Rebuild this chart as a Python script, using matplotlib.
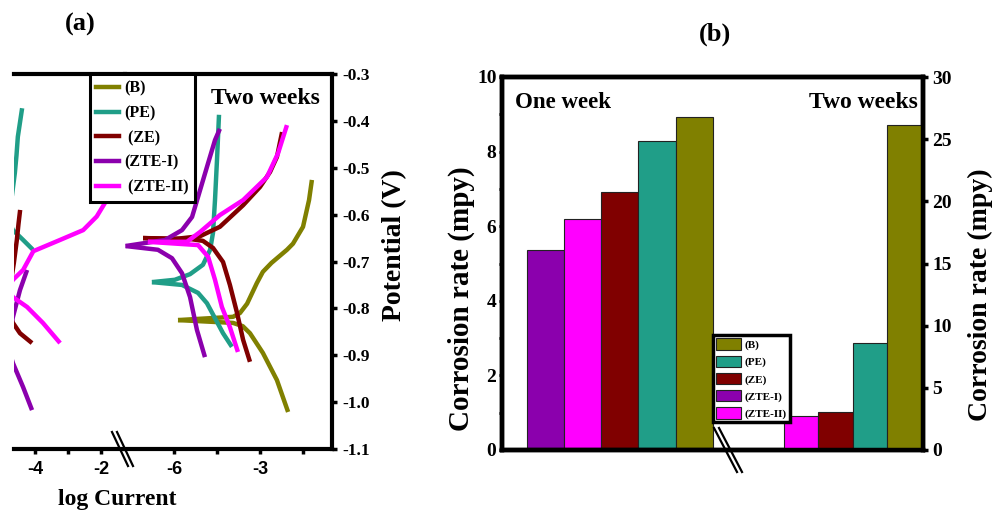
import numpy as np
import matplotlib
matplotlib.use('Agg')
import matplotlib.pyplot as plt
from matplotlib.lines import Line2D
from matplotlib.patches import Patch

plt.rcParams['font.family'] = ['Liberation Serif', 'DejaVu Serif']
plt.rcParams['font.weight'] = 'bold'

# ---------------- data ----------------
samples = ['(B)', '(PE)', ' (ZE)', '(ZTE-I)', ' (ZTE-II)']
samples_b = ['(B)', '(PE)', '(ZE)', '(ZTE-I)', '(ZTE-II)']
colors = {'B': '#808000', 'PE': '#209E88', 'ZE': '#800000',
          'ZTE-I': '#8B00AD', 'ZTE-II': '#FF00FF'}

# Panel (a): Tafel curves, left part of the broken log-current axis
pe_l1_x = [-4.70, -4.61, -4.56, -4.52, -4.39]
pe_l1_y = [-0.560, -0.511, -0.473, -0.434, -0.373]
pe_l2_x = [-4.72, -4.667, -4.36, -4.06]
pe_l2_y = [-0.625, -0.633, -0.654, -0.675]
ze_l1_x = [-4.45, -4.50, -4.55, -4.64, -4.70]
ze_l1_y = [-0.590, -0.620, -0.654, -0.703, -0.730]
ze_l2_x = [-4.72, -4.667, -4.455, -4.09]
ze_l2_y = [-0.820, -0.831, -0.853, -0.874]
ztei_l1_x = [-4.24, -4.455, -4.667, -4.72]
ztei_l1_y = [-0.718, -0.761, -0.818, -0.835]
ztei_l2_x = [-4.72, -4.667, -4.36, -4.09]
ztei_l2_y = [-0.905, -0.917, -0.968, -1.017]
zteii_l1_x = [-4.72, -4.667, -4.36, -4.05, -3.24, -2.54, -2.13, -1.88]
zteii_l1_y = [-0.745, -0.739, -0.718, -0.678, -0.654, -0.633, -0.604, -0.575]
zteii_l2_x = [-4.72, -4.667, -4.24, -3.76, -3.24]
zteii_l2_y = [-0.770, -0.776, -0.797, -0.831, -0.874]

# Panel (a): right part of the broken axis (anodic / cathodic branches)
b_an_x = [-5.86, -3.94, -3.70, -3.45, -3.11, -2.90, -2.60, -2.06, -1.85, -1.50, -1.29, -1.19]
b_an_y = [-0.825, -0.818, -0.810, -0.790, -0.746, -0.722, -0.703, -0.675, -0.662, -0.626, -0.569, -0.526]
b_ca_x = [-5.86, -3.94, -3.60, -3.35, -2.90, -2.41, -2.02]
b_ca_y = [-0.825, -0.831, -0.838, -0.853, -0.895, -0.953, -1.021]

pe_an_x = [-6.77, -5.97, -5.44, -4.99, -4.74, -4.64, -4.57, -4.50, -4.43]
pe_an_y = [-0.744, -0.739, -0.727, -0.707, -0.675, -0.639, -0.569, -0.483, -0.387]
pe_ca_x = [-6.77, -5.72, -5.16, -4.85, -4.57, -4.29, -3.98]
pe_ca_y = [-0.744, -0.750, -0.767, -0.789, -0.821, -0.853, -0.882]

ze_an_x = [-7.08, -5.97, -5.09, -4.40, -3.59, -3.00, -2.65, -2.41, -2.23]
ze_an_y = [-0.650, -0.652, -0.646, -0.626, -0.580, -0.541, -0.509, -0.477, -0.424]
ze_ca_x = [-7.08, -5.44, -4.99, -4.64, -4.29, -4.05, -3.80, -3.59, -3.35]
ze_ca_y = [-0.650, -0.652, -0.656, -0.671, -0.701, -0.750, -0.810, -0.867, -0.914]

ztei_an_x = [-7.69, -6.31, -5.72, -5.37, -5.16, -4.81, -4.57, -4.40]
ztei_an_y = [-0.667, -0.654, -0.633, -0.605, -0.562, -0.490, -0.441, -0.417]
ztei_ca_x = [-7.69, -6.56, -6.07, -5.72, -5.44, -5.20, -4.92]
ztei_ca_y = [-0.667, -0.675, -0.693, -0.725, -0.776, -0.846, -0.904]

zteii_an_x = [-6.91, -5.55, -5.09, -4.40, -3.59, -2.76, -2.37, -2.06]
zteii_an_y = [-0.658, -0.658, -0.637, -0.601, -0.569, -0.520, -0.469, -0.409]
zteii_ca_x = [-6.91, -5.16, -4.81, -4.57, -4.33, -4.05, -3.77]
zteii_ca_y = [-0.658, -0.665, -0.690, -0.739, -0.797, -0.840, -0.893]

left_ticks = [-4, -2]
left_minor = [-3]
right_ticks = [-6, -3]
right_minor = [-4.5, -1.5]
pot_ticks = [-1.1, -1.0, -0.9, -0.8, -0.7, -0.6, -0.5, -0.4, -0.3]

# Panel (b): corrosion rate (mpy)
week1_names = ['ZTE-I', 'ZTE-II', 'ZE', 'PE', 'B']
week1_rate = [5.37, 6.18, 6.93, 8.28, 8.94]
week2_names = ['ZTE-II', 'ZE', 'PE', 'B']
week2_rate = [2.73, 3.03, 8.63, 26.1]

# ---------------- figure ----------------
W, H = 993, 516
fig = plt.figure(figsize=(W / 100, H / 100), dpi=100)

def fx(px):
    return px / W

def fy(py):
    return 1 - py / H

LW = 3.2
SP = 3.0
sans_tick = {'family': 'Liberation Sans', 'weight': 'bold', 'size': 13}

axL = fig.add_axes([fx(14), fy(449), fx(125) - fx(14), fy(74) - fy(449)])
axR = fig.add_axes([fx(125), fy(449), fx(332) - fx(125), fy(74) - fy(449)])

left_curves = [(pe_l1_x, pe_l1_y, 'PE'), (pe_l2_x, pe_l2_y, 'PE'),
               (ze_l1_x, ze_l1_y, 'ZE'), (ze_l2_x, ze_l2_y, 'ZE'),
               (ztei_l1_x, ztei_l1_y, 'ZTE-I'), (ztei_l2_x, ztei_l2_y, 'ZTE-I'),
               (zteii_l1_x, zteii_l1_y, 'ZTE-II'), (zteii_l2_x, zteii_l2_y, 'ZTE-II')]
for x, y, k in left_curves:
    axL.plot(x, y, color=colors[k], lw=LW, solid_joinstyle='round', solid_capstyle='butt')

right_curves = [(b_an_x, b_an_y, 'B'), (b_ca_x, b_ca_y, 'B'),
                (pe_an_x, pe_an_y, 'PE'), (pe_ca_x, pe_ca_y, 'PE'),
                (ze_an_x, ze_an_y, 'ZE'), (ze_ca_x, ze_ca_y, 'ZE'),
                (ztei_an_x, ztei_an_y, 'ZTE-I'), (ztei_ca_x, ztei_ca_y, 'ZTE-I'),
                (zteii_an_x, zteii_an_y, 'ZTE-II'), (zteii_ca_x, zteii_ca_y, 'ZTE-II')]
for x, y, k in right_curves:
    axR.plot(x, y, color=colors[k], lw=LW, solid_joinstyle='round', solid_capstyle='butt')

for ax in (axL, axR):
    ax.set_ylim(-1.1, -0.3)
    for s in ax.spines.values():
        s.set_linewidth(SP)
    ax.spines['left'].set_visible(False)
axL.spines['right'].set_visible(False)
axL.set_xlim(-4.636, -1.273)
axR.set_xlim(-7.709, -0.489)

axL.set_yticks([])
axL.set_xticks(left_ticks)
axL.set_xticks(left_minor, minor=True)
axL.set_xticklabels([str(t) for t in left_ticks], fontdict=sans_tick)
axR.set_xticks(right_ticks)
axR.set_xticks(right_minor, minor=True)
axR.set_xticklabels([str(t) for t in right_ticks], fontdict=sans_tick)
for ax in (axL, axR):
    ax.tick_params(axis='x', which='both', direction='out', length=3.5, width=2.5, pad=5)
axR.yaxis.tick_right()
axR.set_yticks(pot_ticks)
axR.set_yticklabels(['%.1f' % t for t in pot_ticks], fontsize=12.5, fontweight='bold')
axR.tick_params(axis='y', which='both', direction='out', length=3.5, width=2.5, pad=4)
axR.tick_params(axis='y', left=False)

fig.text(fx(395), fy(245), 'Potential (V)', rotation=90, ha='center', va='center',
         fontsize=20, fontweight='bold')
fig.text(fx(117), fy(500), 'log Current', ha='center', va='center',
         fontsize=17, fontweight='bold')
fig.text(fx(80), fy(24), '(a)', ha='center', va='center', fontsize=19, fontweight='bold')
fig.text(fx(265), fy(99), 'Two weeks', ha='center', va='center', fontsize=17, fontweight='bold')

order = ['B', 'PE', 'ZE', 'ZTE-I', 'ZTE-II']
line_handles = [Line2D([0], [0], color=colors[k], lw=LW) for k in order]
legA = fig.legend(line_handles, samples, loc='upper left',
                  bbox_to_anchor=(fx(90), fy(74)), frameon=True, fancybox=False,
                  edgecolor='black', framealpha=1, borderpad=0.4, labelspacing=0.55,
                  handlelength=1.4, handletextpad=0.35, borderaxespad=0,
                  prop={'size': 11.5, 'weight': 'bold'})
legA.get_frame().set_linewidth(2.2)

# break marks panel (a)
for dx in (0, 5):
    fig.add_artist(Line2D([fx(112 + dx), fx(128 + dx)], [fy(432), fy(466)],
                          transform=fig.transFigure, color='black', lw=1.6))

# ---------------- panel (b) ----------------
axB = fig.add_axes([fx(502), fy(450), fx(923) - fx(502), fy(77) - fy(450)])
axB2 = axB.twinx()

pos1 = np.arange(len(week1_rate))
axB.bar(pos1, week1_rate, width=1.0, color=[colors[k] for k in week1_names],
        edgecolor='#222222', linewidth=0.8)
pos2 = 6.405 + 0.926 * (np.arange(len(week2_rate)) + 0.5)
axB2.bar(pos2, week2_rate, width=0.926, color=[colors[k] for k in week2_names],
         edgecolor='#222222', linewidth=0.8)

axB.set_xlim(-1.163, 10.136)
axB.set_ylim(0, 10)
axB2.set_ylim(0, 30)
axB.set_xticks([])
axB.set_yticks(np.arange(0, 11, 2))
axB.set_yticks(np.arange(1, 10, 2), minor=True)
axB.set_yticklabels([str(v) for v in range(0, 11, 2)], fontsize=14, fontweight='bold')
axB.tick_params(axis='y', which='both', direction='out', length=2.5, width=2, pad=1.5)
axB2.set_yticks(np.arange(0, 31, 5))
axB2.set_yticklabels([str(v) for v in range(0, 31, 5)], fontsize=14, fontweight='bold')
axB2.tick_params(axis='y', direction='out', length=3.5, width=2.5, pad=3)
for ax in (axB, axB2):
    for s in ax.spines.values():
        s.set_linewidth(3.2)

fig.text(fx(461), fy(299), 'Corrosion rate (mpy)', rotation=90, ha='center', va='center',
         fontsize=21, fontweight='bold')
fig.text(fx(980), fy(295), 'Corrosion rate (mpy)', rotation=90, ha='center', va='center',
         fontsize=20, fontweight='bold')
fig.text(fx(715), fy(34), '(b)', ha='center', va='center', fontsize=19, fontweight='bold')
fig.text(fx(563), fy(103), 'One week', ha='center', va='center', fontsize=16.5, fontweight='bold')
fig.text(fx(863), fy(102), 'Two weeks', ha='center', va='center', fontsize=17, fontweight='bold')

patch_handles = [Patch(facecolor=colors[k], edgecolor='#222222', linewidth=0.8) for k in order]
legB = fig.legend(patch_handles, samples_b, loc='upper left',
                  bbox_to_anchor=(fx(713), fy(335)), frameon=True, fancybox=False,
                  edgecolor='black', framealpha=1, borderpad=0.3, labelspacing=0.5,
                  handlelength=2.2, handleheight=1.2, handletextpad=0.3, borderaxespad=0,
                  prop={'size': 8, 'weight': 'bold'})
legB.get_frame().set_linewidth(2.5)

for dx in (0, 5):
    fig.add_artist(Line2D([fx(714 + dx), fx(737 + dx)], [fy(428), fy(472)],
                          transform=fig.transFigure, color='black', lw=1.6))

fig.savefig('out.png', dpi=100)
